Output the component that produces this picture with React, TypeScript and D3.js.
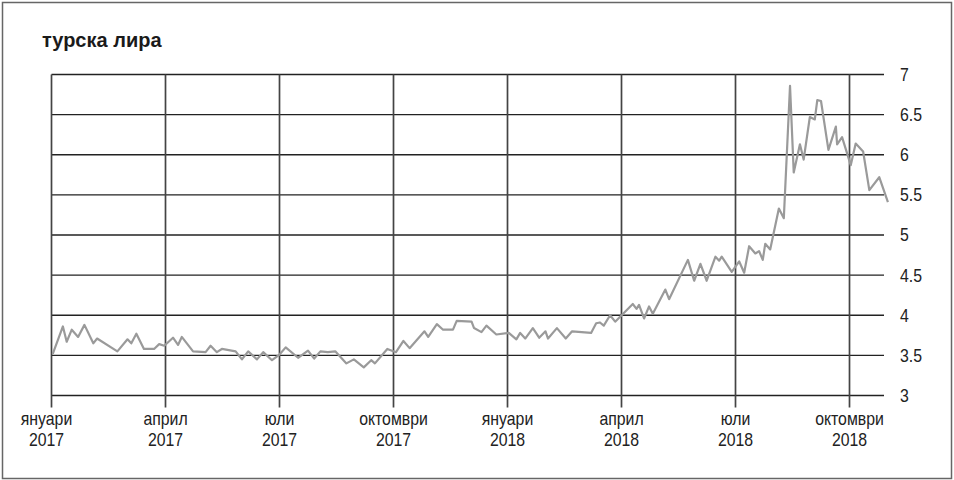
import React from "react";
import * as d3 from "d3";

const title = "турска лира";

const dates: string[] = [
  "2017-01-02","2017-01-10","2017-01-13","2017-01-17","2017-01-22","2017-01-27","2017-02-03","2017-02-06",
  "2017-02-22","2017-03-02","2017-03-05","2017-03-09","2017-03-15","2017-03-23","2017-03-27","2017-03-31",
  "2017-04-07","2017-04-11","2017-04-14","2017-04-23","2017-05-03","2017-05-07","2017-05-12","2017-05-16",
  "2017-05-27","2017-06-01","2017-06-06","2017-06-13","2017-06-18","2017-06-25","2017-07-01","2017-07-06",
  "2017-07-16","2017-07-24","2017-07-29","2017-08-03","2017-08-09","2017-08-15","2017-08-24","2017-08-30",
  "2017-09-07","2017-09-13","2017-09-16","2017-09-26","2017-10-03","2017-10-09","2017-10-14","2017-10-26",
  "2017-10-29","2017-11-05","2017-11-10","2017-11-18","2017-11-21","2017-12-03","2017-12-05","2017-12-11",
  "2017-12-15","2017-12-23","2018-01-02","2018-01-08","2018-01-11","2018-01-15","2018-01-21","2018-01-26",
  "2018-01-31","2018-02-02","2018-02-09","2018-02-16","2018-02-21","2018-03-08","2018-03-12","2018-03-15",
  "2018-03-18","2018-03-23","2018-03-27","2018-04-10","2018-04-13","2018-04-15","2018-04-19","2018-04-23",
  "2018-04-26","2018-05-06","2018-05-09","2018-05-24","2018-05-29","2018-06-03","2018-06-08","2018-06-15",
  "2018-06-18","2018-06-20","2018-06-28","2018-07-04","2018-07-08","2018-07-12","2018-07-17","2018-07-20",
  "2018-07-23","2018-07-25","2018-07-29","2018-08-05","2018-08-09","2018-08-14","2018-08-17","2018-08-22",
  "2018-08-25","2018-08-30","2018-09-03","2018-09-05","2018-09-08","2018-09-14","2018-09-20","2018-09-21",
  "2018-09-25","2018-10-02","2018-10-06","2018-10-12","2018-10-17","2018-10-25","2018-11-01",
];

const values: number[] = [
  3.52,3.86,3.67,3.82,3.73,3.88,3.65,3.71,
  3.55,3.70,3.65,3.77,3.58,3.58,3.64,3.62,
  3.72,3.63,3.73,3.55,3.54,3.62,3.54,3.58,
  3.55,3.45,3.55,3.45,3.54,3.44,3.51,3.60,
  3.47,3.56,3.46,3.55,3.54,3.55,3.40,3.45,
  3.35,3.44,3.40,3.58,3.54,3.68,3.59,3.80,
  3.73,3.89,3.82,3.82,3.93,3.92,3.84,3.79,
  3.87,3.76,3.78,3.70,3.78,3.71,3.84,3.72,
  3.80,3.71,3.84,3.71,3.80,3.78,3.90,3.91,
  3.87,4.00,3.92,4.14,4.08,4.13,3.96,4.11,
  4.02,4.32,4.20,4.69,4.43,4.64,4.43,4.73,
  4.68,4.73,4.54,4.67,4.53,4.86,4.77,4.80,
  4.69,4.89,4.82,5.33,5.21,6.86,5.78,6.13,
  5.94,6.47,6.44,6.68,6.67,6.06,6.35,6.13,
  6.22,5.87,6.14,6.04,5.56,5.72,5.41,
];

const tickDates: string[] = [
  "2017-01-01","2017-04-01","2017-07-01","2017-10-01",
  "2018-01-01","2018-04-01","2018-07-01","2018-10-01",
];
const tickMonths: string[] = ["януари","април","юли","октомври","януари","април","юли","октомври"];
const tickYears: string[] = ["2017","2017","2017","2017","2018","2018","2018","2018"];

const yTicks: number[] = [3, 3.5, 4, 4.5, 5, 5.5, 6, 6.5, 7];
const yTickLabels: string[] = ["3","3.5","4","4.5","5","5.5","6","6.5","7"];

const W = 954;
const H = 480;
const plotLeft = 51.5;
const quarterW = 114;
const plotRight = 884;
const yTop = 74.5;
const yBottom = 395.5;
const font = "'Liberation Sans', Arial, Helvetica, sans-serif";
const squeeze = 0.88;

export default function App() {
  const parse = d3.utcParse("%Y-%m-%d");
  const tDates = tickDates.map((s) => parse(s) as Date);
  const x = d3
    .scaleUtc()
    .domain(tDates)
    .range(tDates.map((_, i) => plotLeft + i * quarterW));
  const y = d3.scaleLinear().domain([3, 7]).range([yBottom, yTop]);

  const data = dates.map((d, i) => ({ date: parse(d) as Date, value: values[i] }));
  const line = d3
    .line<{ date: Date; value: number }>()
    .x((d) => x(d.date))
    .y((d) => y(d.value));

  return (
    <svg
      width={W}
      height={H}
      style={{ position: "absolute", left: 0, top: 0, background: "#fff" }}
      fontFamily={font}
    >
      <rect x={2.5} y={2.5} width={W - 5} height={H - 4} fill="#fff" stroke="#666" strokeWidth={1.5} />
      <text x={42} y={47} fontSize={20} fontWeight="bold" fill="#1a1a1a">
        {title}
      </text>
      {yTicks.map((t, i) => (
        <g key={"y" + i}>
          <line x1={plotLeft} x2={plotRight} y1={y(t)} y2={y(t)} stroke="#222" strokeWidth={1.3} />
          <text
            transform={`translate(900,${y(t)}) scale(${squeeze},1)`}
            dy="0.36em"
            fontSize={18}
            fill="#222"
          >
            {yTickLabels[i]}
          </text>
        </g>
      ))}
      {tDates.map((d, i) => {
        const cx = x(d) - (i === 0 ? 5 : 0);
        return (
          <g key={"x" + i}>
            <line x1={x(d)} x2={x(d)} y1={yTop} y2={yBottom + 12} stroke="#444" strokeWidth={1.7} />
            <text transform={`translate(${cx},425) scale(${squeeze},1)`} textAnchor="middle" fontSize={18} fill="#222">
              {tickMonths[i]}
            </text>
            <text transform={`translate(${cx},446) scale(${squeeze},1)`} textAnchor="middle" fontSize={18} fill="#222">
              {tickYears[i]}
            </text>
          </g>
        );
      })}
      <path d={line(data) || ""} fill="none" stroke="#9a9a9a" strokeWidth={2.2} strokeLinejoin="round" />
    </svg>
  );
}
